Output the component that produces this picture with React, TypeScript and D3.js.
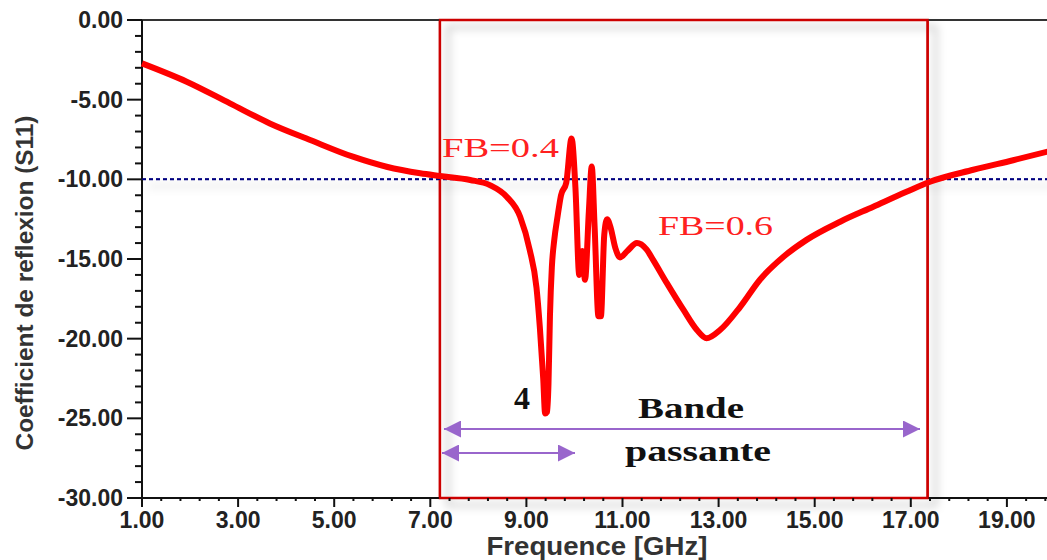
import React from "react";
import * as d3 from "d3";

const freq = [1, 1.93, 2.83, 3.66, 4.5, 5.39, 6.09, 6.79, 7.2, 7.83, 8.24, 8.59, 8.87, 9.07, 9.21, 9.28, 9.35, 9.39, 9.43, 9.46, 9.49, 9.53, 9.58, 9.65, 9.72, 9.83, 9.94, 10.02, 10.1, 10.16, 10.22, 10.3, 10.36, 10.42, 10.5, 10.55, 10.62, 10.68, 10.75, 10.85, 10.95, 11.1, 11.3, 11.5, 11.64, 11.92, 12.27, 12.55, 12.75, 13.03, 13.45, 13.86, 14.35, 14.83, 15.53, 16.22, 16.91, 17.4, 18.3, 19.13, 19.9];
const s11 = [-2.72, -3.87, -5.23, -6.49, -7.53, -8.58, -9.21, -9.62, -9.79, -10.04, -10.36, -11.09, -12.35, -14.44, -16.8, -19.3, -22.5, -24.7, -24.6, -22.8, -18.6, -15.5, -13.8, -12.3, -11.0, -10.2, -7.43, -10.5, -16.0, -14.5, -16.3, -12.0, -9.2, -13.0, -18.6, -18.6, -13.5, -12.5, -13.0, -14.3, -14.9, -14.5, -14.0, -14.4, -15.07, -16.5, -18.2, -19.46, -19.98, -19.46, -18.0, -16.3, -14.86, -13.8, -12.66, -11.72, -10.78, -10.15, -9.4, -8.8, -8.22];

const xTickValues = [1, 3, 5, 7, 9, 11, 13, 15, 17, 19];
const yTickValues = [0, -5, -10, -15, -20, -25, -30];
const bandEdges = [7.2, 17.35];
const threshold = -10;

export default function App() {
  const W = 1047, H = 560;
  const x = d3.scaleLinear().domain([1, 20]).range([142, 142 + 48.05 * 19]);
  const y = d3.scaleLinear().domain([0, -30]).range([20, 498]);
  const x0 = x(1), x1 = W;
  const line = d3.line<number>().x((_, i) => x(freq[i])).y((d) => y(d)).curve(d3.curveMonotoneX);
  const minorX = d3.range(1, 20.01, 0.4).filter((v) => Math.abs((v - 1) / 2 - Math.round((v - 1) / 2)) > 0.01);
  const minorY = d3.range(0, -30.01, -1).filter((v) => v % 5 !== 0);
  const purple = "#9966cc";
  const axisFont = "'Liberation Sans', Arial, sans-serif";
  const serif = "'Liberation Serif', 'Times New Roman', serif";
  return (
    <svg width={W} height={H} style={{ position: "absolute", left: 0, top: 0, background: "#fff" }}>
      <defs>
        <filter id="sh" filterUnits="userSpaceOnUse" x="0" y="0" width={W} height={H}>
          <feDropShadow dx="8" dy="7" stdDeviation="4" floodColor="#000" floodOpacity="0.3" />
        </filter>
        <marker id="ah" viewBox="0 0 10 10" refX="10" refY="5" markerWidth="20" markerHeight="17" markerUnits="userSpaceOnUse" orient="auto-start-reverse">
          <path d="M0,0 L10,5 L0,10 Z" fill={purple} />
        </marker>
      </defs>
      {/* shadows of guides */}
      <line x1={x0} x2={x1} y1={y(threshold)} y2={y(threshold)} stroke="#000080" strokeWidth={2} strokeDasharray="4,3" filter="url(#sh)" />
      <rect x={x(bandEdges[0])} y={y(0)} width={x(bandEdges[1]) - x(bandEdges[0])} height={y(-30) - y(0)} fill="none" stroke="#cc0000" strokeWidth={2.5} filter="url(#sh)" />
      {/* axes */}
      <line x1={x0} x2={x1} y1={y(0)} y2={y(0)} stroke="#333" strokeWidth={2} />
      <line x1={x0} x2={x1} y1={y(-30)} y2={y(-30)} stroke="#111" strokeWidth={2} />
      <line x1={x0} x2={x0} y1={y(0)} y2={y(-30)} stroke="#111" strokeWidth={2} />
      <rect x={x(bandEdges[0])} y={y(0)} width={x(bandEdges[1]) - x(bandEdges[0])} height={y(-30) - y(0)} fill="none" stroke="#cc0000" strokeWidth={2} />
      {yTickValues.map((v) => (
        <g key={"yt" + v}>
          <line x1={x0 - 15} x2={x0} y1={y(v)} y2={y(v)} stroke="#111" strokeWidth={2} />
          <text x={123} y={y(v) + 8} textAnchor="end" fontFamily={axisFont} fontWeight="bold" fontSize={23} fill="#222">{v.toFixed(2)}</text>
        </g>
      ))}
      {minorY.map((v) => (
        <line key={"ym" + v} x1={x0 - 7} x2={x0} y1={y(v)} y2={y(v)} stroke="#111" strokeWidth={2} />
      ))}
      {xTickValues.map((v) => (
        <g key={"xt" + v}>
          <line x1={x(v)} x2={x(v)} y1={y(-30)} y2={y(-30) + 9} stroke="#111" strokeWidth={2} />
          <text x={x(v)} y={528} textAnchor="middle" fontFamily={axisFont} fontWeight="bold" fontSize={23} fill="#222">{v.toFixed(2)}</text>
        </g>
      ))}
      {minorX.map((v) => (
        <line key={"xm" + v} x1={x(v)} x2={x(v)} y1={y(-30)} y2={y(-30) + 3} stroke="#111" strokeWidth={2} />
      ))}
      <text x={597} y={555} textAnchor="middle" fontFamily={axisFont} fontWeight="bold" fontSize={25} fill="#333" textLength={221} lengthAdjust="spacingAndGlyphs">Frequence [GHz]</text>
      <text transform={`translate(33,${283}) rotate(-90)`} textAnchor="middle" fontFamily={axisFont} fontWeight="bold" fontSize={23} fill="#333" textLength={335} lengthAdjust="spacingAndGlyphs">Coefficient de reflexion (S11)</text>
      {/* guide line */}
      <line x1={x0} x2={x1} y1={y(threshold)} y2={y(threshold)} stroke="#000080" strokeWidth={1.5} strokeDasharray="4,3" />
      {/* curve */}
      <path d={line(s11) || ""} fill="none" stroke="#ff0000" strokeWidth={6} strokeLinejoin="round" />
      {/* annotations */}
      <text x={442} y={157} fontFamily={serif} fontSize={28} fill="#ff2020" textLength={117} lengthAdjust="spacingAndGlyphs">FB=0.4</text>
      <text x={658} y={235} fontFamily={serif} fontSize={28} fill="#ff2020" textLength={115} lengthAdjust="spacingAndGlyphs">FB=0.6</text>
      <text x={514} y={409} fontFamily={serif} fontWeight="bold" fontSize={32} fill="#111">4</text>
      <text x={638} y={418} fontFamily={serif} fontWeight="bold" fontSize={30} fill="#111" textLength={106} lengthAdjust="spacingAndGlyphs">Bande</text>
      <text x={625} y={461} fontFamily={serif} fontWeight="bold" fontSize={30} fill="#111" textLength={146} lengthAdjust="spacingAndGlyphs">passante</text>
      <line x1={444} x2={920} y1={429} y2={429} stroke={purple} strokeWidth={2} markerStart="url(#ah)" markerEnd="url(#ah)" />
      <line x1={442} x2={575} y1={453} y2={453} stroke={purple} strokeWidth={2} markerStart="url(#ah)" markerEnd="url(#ah)" />
    </svg>
  );
}
